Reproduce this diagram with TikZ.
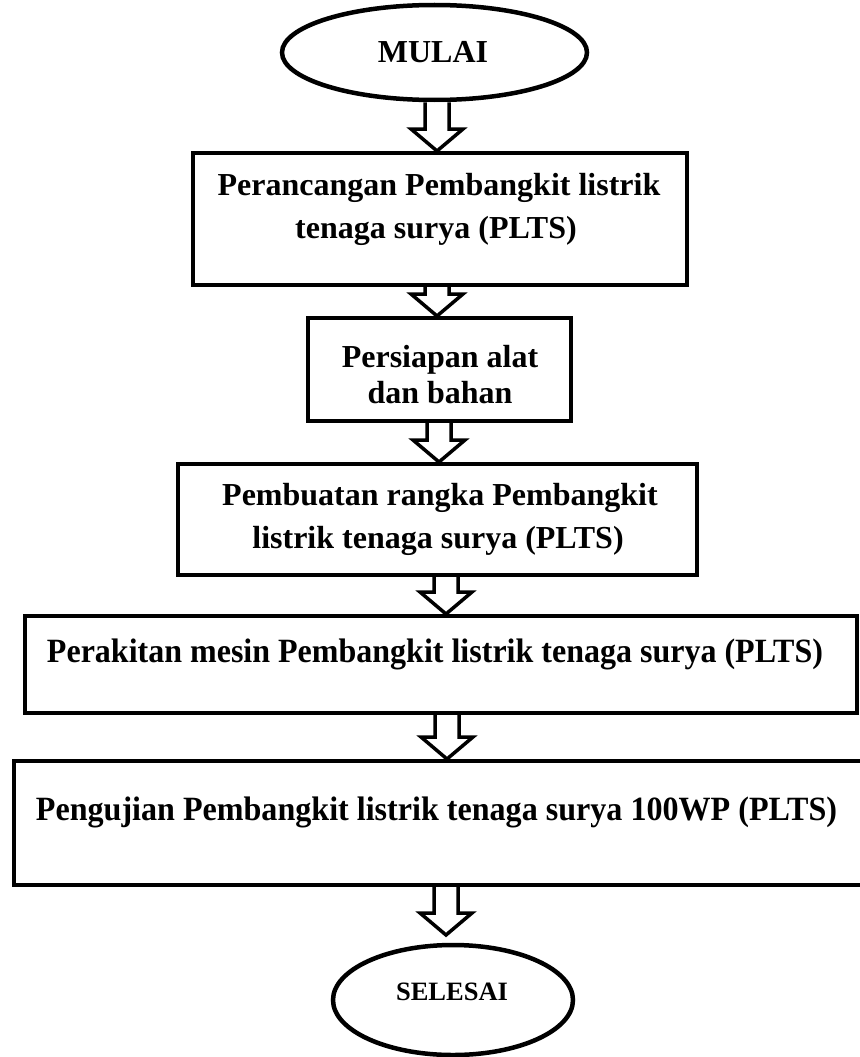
\documentclass[tikz,border=0pt]{standalone}
\usepackage{fontspec}
\setmainfont{Liberation Serif}
\usepackage{graphicx}
\usetikzlibrary{shapes.geometric,calc}
\tikzset{
  boxnode/.style={draw, line width=4pt, rectangle, inner sep=0pt},
  ovalnode/.style={draw, line width=4.5pt, ellipse, inner sep=0pt},
  txt/.style={font=\bfseries\fontsize{32}{38}\selectfont, inner sep=0pt, anchor=base},
  bigtxt/.style={font=\bfseries\fontsize{34}{40}\selectfont, inner sep=0pt, anchor=base},
  endtxtstyle/.style={font=\bfseries\fontsize{26.5}{30}\selectfont, inner sep=0pt, anchor=base},
  blk/.style={draw, line width=3.5pt, fill=white, line join=miter}
}
\newcommand\blockarr[3]{%
  \draw[blk] let \p1=(#2), \p2=(#3) in
    (#1pt-12pt,\y1) -- (#1pt-12pt,\y2+22pt) -- (#1pt-26pt,\y2+22pt) -- (#1pt,\y2)
    -- (#1pt+26pt,\y2+22pt) -- (#1pt+12pt,\y2+22pt) -- (#1pt+12pt,\y1);}
\begin{document}
\begin{tikzpicture}[x=1pt,y=-1pt]
\useasboundingbox (0,0) rectangle (859,1057);
% start / end
\node[ovalnode, minimum width=305pt, minimum height=95pt] (start) at (434.5,52.5) {};
\node[txt] (starttxt) at (433,63) {MULAI};
% boxes
\node[boxnode, minimum width=494pt, minimum height=132pt] (b1) at (440,219) {};
\node[txt] (b1a) at (439,195) {Perancangan Pembangkit listrik};
\node[txt] (b1b) at (436,238) {tenaga surya (PLTS)};
\node[boxnode, minimum width=263pt, minimum height=103pt] (b2) at (439.5,369.5) {};
\node[txt] (b2a) at (440,367) {Persiapan alat};
\node[txt] (b2b) at (440,403) {dan bahan};
\node[boxnode, minimum width=519pt, minimum height=111pt] (b3) at (437.5,519.5) {};
\node[txt] (b3a) at (440,505) {Pembuatan rangka Pembangkit};
\node[txt] (b3b) at (438,548) {listrik tenaga surya (PLTS)};
\node[boxnode, minimum width=832pt, minimum height=97pt] (b4) at (441,664.5) {};
\node[bigtxt] (b4a) at (435,662) {\resizebox{776pt}{\height}{Perakitan mesin Pembangkit listrik tenaga surya (PLTS)}};
\node[boxnode, minimum width=852pt, minimum height=124pt] (b5) at (440,823) {};
\node[bigtxt] (b5a) at (436.5,820) {\resizebox{801pt}{\height}{Pengujian Pembangkit listrik tenaga surya 100WP (PLTS)}};
\node[ovalnode, minimum width=240pt, minimum height=110pt] (end) at (453,1000) {};
\node[endtxtstyle] (endtxt) at (452,1000) {SELESAI};
\coordinate (a6tip) at (446,935);
% block arrows
\blockarr{437}{start.south}{b1.north}
\blockarr{437}{b1.south}{b2.north}
\blockarr{439}{b2.south}{b3.north}
\blockarr{446}{b3.south}{b4.north}
\blockarr{447}{b4.south}{b5.north}
\blockarr{446}{b5.south}{a6tip}
\end{tikzpicture}
\end{document}
